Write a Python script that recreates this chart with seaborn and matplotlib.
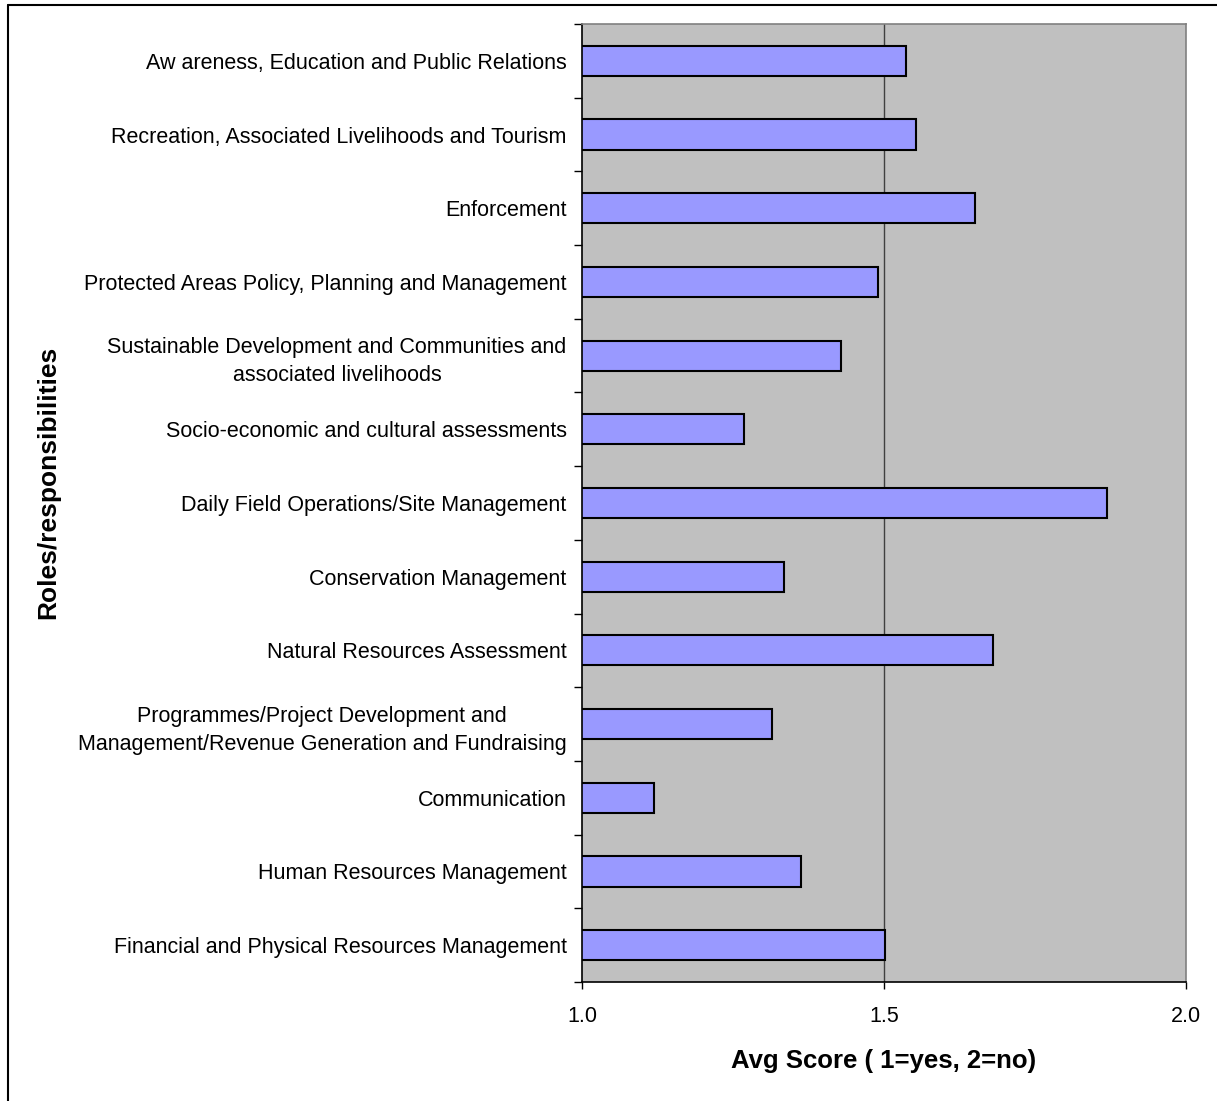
import matplotlib
matplotlib.use("Agg")
import matplotlib.pyplot as plt
import seaborn as sns
import pandas as pd
from matplotlib.ticker import FixedLocator
from matplotlib.lines import Line2D

categories = [
    "Aw areness, Education and Public Relations",
    "Recreation, Associated Livelihoods and Tourism",
    "Enforcement",
    "Protected Areas Policy, Planning and Management",
    "Sustainable Development and Communities and\nassociated livelihoods",
    "Socio-economic and cultural assessments",
    "Daily Field Operations/Site Management",
    "Conservation Management",
    "Natural Resources Assessment",
    "Programmes/Project Development and\nManagement/Revenue Generation and Fundraising",
    "Communication",
    "Human Resources Management",
    "Financial and Physical Resources Management",
]
scores = [1.536, 1.553, 1.651, 1.490, 1.428, 1.269, 1.870, 1.334, 1.680, 1.315, 1.119, 1.362, 1.502]
xticks = [1.0, 1.5, 2.0]
xtick_labels = ["1.0", "1.5", "2.0"]

df = pd.DataFrame({"role": categories, "score": scores})

sns.set_style("white")
plt.rcParams["font.family"] = ["Liberation Sans", "DejaVu Sans"]
plt.rcParams["text.color"] = "black"
plt.rcParams["axes.labelcolor"] = "black"
plt.rcParams["xtick.color"] = "black"
plt.rcParams["ytick.color"] = "black"

fig = plt.figure(figsize=(12.17, 11.01), dpi=100)
ax = fig.add_axes([582 / 1217, 1 - 982 / 1101, 604 / 1217, (982 - 24) / 1101])

sns.barplot(data=df, x="score", y="role", orient="h", color="#9999FF",
            saturation=1, width=0.41, edgecolor="black", linewidth=1.5, ax=ax)

ax.set_facecolor("#C0C0C0")
ax.set_xlim(1.0, 2.0)
ax.set_ylim(len(categories) - 0.5, -0.5)
ax.axvline(1.5, color="#404040", linewidth=1.0, zorder=0.5)

ax.set_xticks(xticks)
ax.set_xticklabels(xtick_labels, fontsize=15.5)
ax.tick_params(axis="x", bottom=True, direction="out", length=5, width=1, pad=12, colors="black")
ax.tick_params(axis="y", which="major", left=True, length=0, pad=11, labelsize=15.5)
ax.yaxis.set_minor_locator(FixedLocator([i + 0.5 for i in range(-1, len(categories))]))
ax.tick_params(axis="y", which="minor", left=True, direction="out", length=6, width=1, color="black")
for lab in ax.get_yticklabels():
    lab.set_multialignment("center")
    lab.set_linespacing(1.45)
    lab.set_color("black")

for side in ["top", "right"]:
    ax.spines[side].set_color("#808080")
    ax.spines[side].set_linewidth(1.2)
for side in ["left", "bottom"]:
    ax.spines[side].set_color("black")
    ax.spines[side].set_linewidth(1.2)

ax.set_xlabel("Avg Score ( 1=yes, 2=no)", fontsize=18.5, fontweight="bold", labelpad=16, color="black")
ax.set_ylabel("")
fig.text(48 / 1217, 1 - 482 / 1101, "Roles/responsibilities", rotation=90,
         fontsize=19, fontweight="bold", ha="center", va="center", color="black")

# outer chart frame (top and left edges visible, rest cut off by the image)
fig.lines.append(Line2D([8 / 1217, 8 / 1217], [0, 1 - 5 / 1101], transform=fig.transFigure,
                        color="black", linewidth=1.5))
fig.lines.append(Line2D([8 / 1217, 1], [1 - 5 / 1101, 1 - 5 / 1101], transform=fig.transFigure,
                        color="black", linewidth=1.5))

fig.savefig("out.png", dpi=100, facecolor="white")
